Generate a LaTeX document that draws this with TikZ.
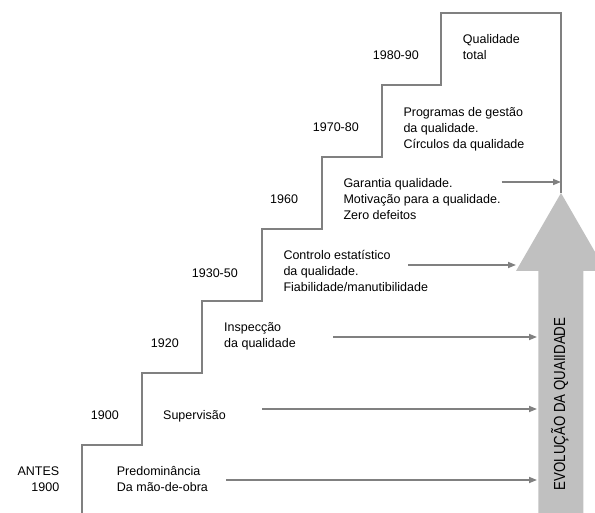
\documentclass[tikz,border=0pt]{standalone}
\usepackage{fontspec}
\setmainfont{Liberation Sans}
\usepackage{graphicx}
\usetikzlibrary{arrows.meta}
\definecolor{linegray}{RGB}{128,128,128}
\definecolor{arrowfill}{RGB}{192,192,192}
% stacked lines, aligned on the baseline of the first one
\newcommand\stack[2][l]{\begin{tabular}[t]{@{}#1@{}}#2\end{tabular}}

\begin{document}
\begin{tikzpicture}[x=1pt,y=-1pt,
  stair/.style={draw=linegray,line width=1.8pt,line join=miter},
  feed/.style={draw=linegray,line width=1.6pt,-{Triangle[length=8pt,width=6pt]}},
  txt/.style={inner sep=0pt,anchor=base west,font=\fontsize{12.5}{16}\selectfont},
  bigarrow/.style={fill=arrowfill}]
\useasboundingbox (0,0) rectangle (595,513);

% large upward arrow on the right
\begin{scope}
  \clip (0,0) rectangle (595,513);
  \fill[bigarrow] (561,193) -- (606,271) -- (583.3,271) -- (583.3,520)
    -- (538.3,520) -- (538.3,271) -- (516,271) -- cycle;
\end{scope}
\node[inner sep=0pt,anchor=base,rotate=90,font=\fontsize{16}{16}\selectfont]
  (evol) at (565,404) {\scalebox{0.83}[1]{EVOLUÇÃO DA QUAIIDADE}};

% staircase
\draw[stair] (82,513) -- (82,445) -- (142,445) -- (142,373) -- (202,373)
  -- (202,301) -- (261.7,301) -- (261.7,229.3) -- (321.7,229.3)
  -- (321.7,157.3) -- (381.8,157.3) -- (381.8,85) -- (441,85)
  -- (441,13.3) -- (561,13.3) -- (561,193);

% periods
\node[txt,anchor=base east] (y0) at (59.5,475.2) {\stack[r]{ANTES\\1900}};
\node[txt] (y1) at (90.7,419.5) {1900};
\node[txt] (y2) at (150.7,347.8) {1920};
\node[txt] (y3) at (191.7,277.2) {1930-50};
\node[txt] (y4) at (270,203.8) {1960};
\node[txt] (y5) at (312.7,131.8) {1970-80};
\node[txt] (y6) at (372.7,60) {1980-90};

% stages
\node[txt] (t0) at (116.7,475.2) {\stack{Predominância\\Da mão-de-obra}};
\node[txt] (t1) at (163,419.5) {Supervisão};
\node[txt] (t2) at (224,331.8) {\stack{Inspecção\\da qualidade}};
\node[txt] (t3) at (283.3,259.5) {\stack{Controlo estatístico\\da qualidade.\\Fiabilidade/manutibilidade}};
\node[txt] (t4) at (343.3,187.8) {\stack{Garantia qualidade.\\Motivação para a qualidade.\\Zero defeitos}};
\node[txt] (t5) at (403.3,116.2) {\stack{Programas de gestão\\da qualidade.\\Círculos da qualidade}};
\node[txt] (t6) at (462.7,44) {\stack{Qualidade\\total}};

% feeds into the arrow
\coordinate (s0) at (226,480);   \coordinate (e0) at (537,480);
\coordinate (s1) at (262,409);   \coordinate (e1) at (537,409);
\coordinate (s2) at (333,337);   \coordinate (e2) at (537,337);
\coordinate (s3) at (408,265);   \coordinate (e3) at (516,265);
\coordinate (s4) at (501.7,182); \coordinate (e4) at (561,182);
\foreach \i in {0,...,4} \draw[feed] (s\i) -- (e\i);
\end{tikzpicture}
\end{document}
